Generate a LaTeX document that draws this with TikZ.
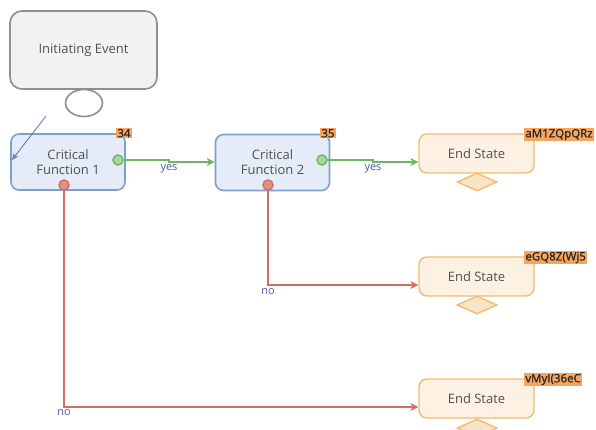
\documentclass[tikz,border=0pt]{standalone}
\usepackage{fontspec}
\setmainfont{Open Sans}
\newfontfamily\tagfont[FakeBold=1.2]{Open Sans}
\usetikzlibrary{arrows.meta,shapes.geometric}
\definecolor{grayfill}{HTML}{F2F2F2}
\definecolor{graydraw}{HTML}{8E8E96}
\definecolor{bluefill}{HTML}{E6ECF7}
\definecolor{bluedraw}{HTML}{7F9FCB}
\definecolor{orfill}{HTML}{FDF1E4}
\definecolor{ordraw}{HTML}{F1BC6E}
\definecolor{dfill}{HTML}{FBE3C7}
\definecolor{tagfill}{HTML}{F7A55E}
\definecolor{gline}{HTML}{6DB761}
\definecolor{gfill}{HTML}{A9D7A1}
\definecolor{rline}{HTML}{D76B63}
\definecolor{rfill}{HTML}{DC957F}
\definecolor{txt}{HTML}{505050}
\definecolor{lbl}{HTML}{4B5C99}
\definecolor{arrowblue}{HTML}{5B7FC0}
\tikzset{
  initbox/.style={draw=graydraw, fill=grayfill, line width=1.6pt, rounded corners=12pt, minimum width=147pt, minimum height=78pt, font=\fontsize{13}{15}\selectfont, text=txt},
  cfbox/.style={draw=bluedraw, fill=bluefill, line width=1.6pt, rounded corners=8pt, minimum width=114pt, minimum height=56pt, align=center, font=\fontsize{13}{15}\selectfont, text=txt},
  esbox/.style={draw=ordraw, fill=orfill, line width=1.4pt, rounded corners=8pt, minimum width=115pt, minimum height=39pt, font=\fontsize{13}{15}\selectfont, text=txt},
  esdiam/.style={diamond, draw=ordraw, fill=dfill, line width=1.4pt, minimum width=40pt, minimum height=18pt, inner sep=0pt},
  tag/.style={fill=tagfill, inner xsep=1.2pt, inner ysep=0.8pt, anchor=north west, font=\tagfont\fontsize{11.5}{12}\selectfont, text=black!85},
  gport/.style={circle, draw=gline, fill=gfill, line width=1.2pt, minimum size=10pt, inner sep=0pt},
  rport/.style={circle, draw=rline, fill=rfill, line width=1.2pt, minimum size=10pt, inner sep=0pt},
  yesline/.style={draw=gline, line width=1.4pt, -{Stealth[length=8pt,width=8pt]}},
  noline/.style={draw=rline, line width=1.6pt, -{Stealth[length=8pt,width=8pt]}},
  elbl/.style={font=\fontsize{11}{12}\selectfont, text=lbl, inner sep=1pt},
}
\begin{document}
\begin{tikzpicture}[x=1pt,y=-1pt]
\useasboundingbox (0,0) rectangle (596,430);
% initiating event
\node[initbox] (init) at (83.5,50) {Initiating Event};
\node[ellipse, draw=graydraw, fill=white, line width=1.6pt, minimum width=37pt, minimum height=27pt, inner sep=0pt] (bubble) at (84,103) {};
% critical functions
\node[cfbox] (cf1) at (68,162) {Critical\\Function 1};
\node[cfbox] (cf2) at (272.5,162.5) {Critical\\Function 2};
\node[tag] (t34) at (116,128) {34};
\node[tag] (t35) at (320,128) {35};
% end states
\node[esbox] (es1) at (476.5,153.5) {End State};
\node[esbox] (es2) at (476.5,276.5) {End State};
\node[esbox] (es3) at (476.5,398.5) {End State};
\node[esdiam] (d1) at (477,182) {};
\node[esdiam] (d2) at (477,305) {};
\node[esdiam] (d3) at (477,428) {};
\node[tag] (ta) at (524,128) {aM1ZQpQRz};
\node[tag] (tb) at (524,251) {eGQ8Z(Wj5};
\node[tag] (tc) at (524,373) {vMyI(36eC};
% ports
\node[gport] (g1) at (118,160) {};
\node[gport] (g2) at (322,160) {};
\node[rport] (r1) at (64,185) {};
\node[rport] (r2) at (268,185) {};
% blue arrow
\coordinate (bstart) at (46,116);
\draw[arrowblue, line width=0.9pt, -{Stealth[length=7pt,width=6pt]}] (bstart) -- (12,160);
% yes connectors
\draw[yesline] (g1.east) -- (169,160) -- (169,162) -- (cf2.west |- 0,162);
\draw[yesline] (g2.east) -- (373,160) -- (373,162) -- (es1.west |- 0,162);
\node[elbl] (y1) at (169,169) {yes};
\node[elbl] (y2) at (373,169) {yes};
% no connectors
\draw[noline] (r2.south) -- (268,285) -- (es2.west |- 0,285);
\draw[noline] (r1.south) -- (64,407) -- (es3.west |- 0,407);
\node[elbl] (n2) at (268,292) {no};
\node[elbl] (n1) at (64,413) {no};
% redraw ports on top
\node[gport] at (g1) {};
\node[gport] at (g2) {};
\node[rport] at (r1) {};
\node[rport] at (r2) {};
\end{tikzpicture}
\end{document}
